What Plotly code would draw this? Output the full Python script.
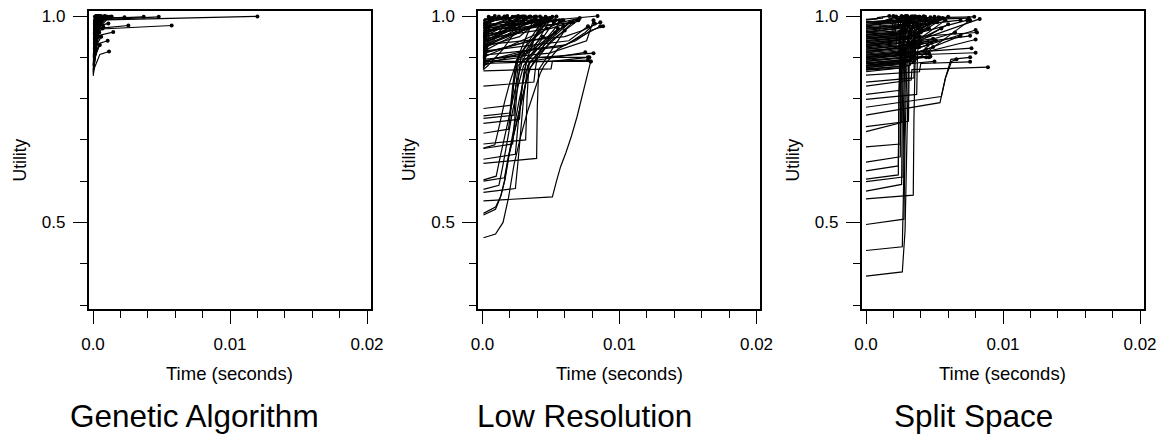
import plotly.graph_objects as go

# ---------------- data (time in milliseconds, utility) ----------------
panel_titles = ["Genetic Algorithm", "Low Resolution", "Split Space"]
x_tick_vals = [0.0, 0.01, 0.02]
x_tick_text = ["0.0", "0.01", "0.02"]
x_minor_vals = [0.002, 0.004, 0.006, 0.008, 0.012, 0.014, 0.016, 0.018]
y_tick_vals = [0.5, 1.0]
y_tick_text = ["0.5", "1.0"]
y_minor_vals = [0.3, 0.4, 0.6, 0.7, 0.8, 0.9]

ga_time_ms = [
    [0.05, 0.15, 12.0], [0.05, 0.25, 5.74], [0.05, 0.15, 4.8], [0.05, 0.1, 3.7],
    [0.05, 0.1, 2.3], [0.05, 0.1, 1.36], [0.05, 0.4, 2.58], [0.05, 0.4, 1.48],
    [0.05, 0.3, 1.12], [0.05, 0.5, 1.07], [0.05, 0.5, 1.17], [0.05, 0.3, 0.75],
    [0.02, 0.15, 0.35, 0.6], [0.03, 0.2, 0.4, 0.9], [0.05, 0.2, 0.5, 1.0],
    [0.04, 0.3, 0.45], [0.05, 0.25, 0.5], [0.05, 0.3, 0.8], [0.05, 0.2, 0.3],
    [0.05, 0.1, 0.2], [0.03, 0.2, 0.6], [0.05, 0.3, 0.55], [0.05, 0.35, 0.7],
    [0.04, 0.2, 0.25], [0.02, 0.25, 0.4], [0.05, 0.15, 0.45], [0.05, 0.3, 0.65],
    [0.05, 0.4, 1.2], [0.04, 0.25, 0.35], [0.05, 0.3, 0.5], [0.03, 0.2, 0.4],
    [0.05, 0.2, 0.35], [0.05, 0.3, 0.45], [0.02, 0.1, 0.3], [0.05, 0.2, 0.55],
    [0.03, 0.15, 0.85], [0.05, 0.25, 0.6],
    [0.03, 0.12, 0.3], [0.03, 0.15, 0.4], [0.04, 0.2, 0.35], [0.02, 0.1, 0.25],
    [0.03, 0.18, 0.5], [0.04, 0.12, 0.3], [0.03, 0.2, 0.42], [0.05, 0.15, 0.28],
    [0.03, 0.22, 0.55], [0.04, 0.1, 0.33], [0.03, 0.17, 0.38], [0.05, 0.13, 0.26],
    [0.03, 0.2, 0.48], [0.04, 0.1, 0.22], [0.03, 0.15, 0.4], [0.05, 0.12, 0.3],
    [0.03, 0.1, 0.2], [0.04, 0.14, 0.36], [0.03, 0.1, 0.18], [0.05, 0.12, 0.27],
    [0.03, 0.1, 0.15], [0.04, 0.12, 0.33], [0.02, 0.08, 0.5], [0.02, 0.1, 0.6],
    [0.03, 0.1, 0.45], [0.02, 0.12, 0.7],
]
ga_utility = [
    [0.95, 0.99, 0.999], [0.93, 0.968, 0.977], [0.96, 0.99, 0.998], [0.97, 0.993, 0.998],
    [0.975, 0.994, 0.997], [0.98, 0.995, 0.999], [0.92, 0.97, 0.977], [0.90, 0.953, 0.961],
    [0.94, 0.975, 0.982], [0.89, 0.934, 0.940], [0.87, 0.907, 0.914], [0.93, 0.965, 0.974],
    [0.855, 0.90, 0.96, 0.995], [0.87, 0.93, 0.975, 0.998], [0.88, 0.94, 0.98, 0.999],
    [0.89, 0.95, 0.997], [0.90, 0.96, 0.999], [0.91, 0.97, 0.998], [0.92, 0.97, 0.997],
    [0.94, 0.98, 0.999], [0.875, 0.93, 0.985], [0.895, 0.955, 0.993], [0.905, 0.96, 0.99],
    [0.95, 0.985, 0.999], [0.865, 0.92, 0.98], [0.885, 0.94, 0.995], [0.90, 0.95, 0.999],
    [0.915, 0.97, 0.998], [0.96, 0.99, 0.998], [0.925, 0.965, 0.985], [0.87, 0.915, 0.95],
    [0.935, 0.96, 0.975], [0.88, 0.92, 0.93], [0.86, 0.91, 0.97], [0.90, 0.94, 0.99],
    [0.88, 0.95, 1.0], [0.945, 0.975, 0.99],
    [0.86, 0.92, 0.99], [0.866, 0.93, 0.995], [0.872, 0.94, 0.999], [0.878, 0.93, 0.985],
    [0.884, 0.95, 0.998], [0.89, 0.94, 0.99], [0.896, 0.96, 0.999], [0.902, 0.95, 0.995],
    [0.908, 0.965, 1.0], [0.914, 0.96, 0.998], [0.92, 0.97, 0.999], [0.926, 0.965, 0.99],
    [0.932, 0.975, 0.999], [0.938, 0.97, 0.995], [0.944, 0.98, 1.0], [0.95, 0.98, 0.998],
    [0.956, 0.985, 0.999], [0.962, 0.99, 1.0], [0.968, 0.99, 0.998], [0.974, 0.992, 1.0],
    [0.98, 0.995, 0.999], [0.986, 0.996, 1.0], [0.87, 0.90, 0.93], [0.88, 0.92, 0.95],
    [0.89, 0.93, 0.96], [0.90, 0.95, 0.97],
]

lr_time_ms = [
    [0.07, 0.95, 1.5, 1.9, 2.3, 2.8, 3.3, 3.8, 4.2, 4.5, 5.5, 8.6],
    [0.07, 0.95, 1.3, 1.6, 1.9, 2.3, 2.75, 3.1, 3.4, 4.5, 6.4],
    [0.07, 0.95, 1.35, 1.65, 1.95, 2.35, 2.8, 3.15, 3.5, 5.0, 7.0],
    [0.07, 5.1, 5.4, 5.7, 6.1, 6.5, 6.9, 7.3, 7.6, 7.8, 7.9],
    [0.07, 2.4, 2.6, 2.8, 3.0, 3.3, 5.5],
    [0.07, 1.0, 1.3, 1.7, 2.1, 2.5, 2.9, 4.6],
    [0.07, 3.95, 4.0, 4.1, 6.0],
    [0.07, 2.4, 2.6, 2.9, 3.2, 5.2],
    [0.07, 2.2, 2.35, 2.55, 2.8, 4.8],
    [0.07, 3.15, 3.25, 3.4, 7.5],
    [0.07, 1.9, 2.1, 2.3, 2.6, 4.4],
    [0.07, 2.3, 2.4, 2.6, 5.9],
    [0.07, 2.0, 2.2, 2.45, 3.8],
    [0.07, 2.1, 2.3, 2.6, 8.1],
    [0.07, 3.75, 3.85, 4.0, 7.8],
    [0.07, 5.0, 5.1, 7.7],
    [0.07, 7.7], [0.07, 7.9],
    [0.07, 5.4], [0.07, 4.6], [0.07, 3.9], [0.07, 3.1], [0.07, 2.2], [0.07, 1.2],
    [0.07, 4.2, 5.9], [0.07, 4.8, 6.4], [0.07, 3.6, 6.1, 7.5, 8.2],
    [0.07, 5.6, 6.8, 7.9, 8.8], [0.07, 6.0, 7.3, 8.6], [0.07, 5.0, 6.9],
    [0.07, 4.4, 6.6], [0.07, 5.2, 7.1], [0.07, 3.3, 8.4], [0.07, 2.7, 4.3],
    [0.07, 1.7, 3.4], [0.07, 3.7, 5.0], [0.07, 4.9, 7.6, 8.1], [0.07, 2.9],
    [0.07, 1.8], [0.07, 0.5], [0.07, 0.3], [0.07, 0.4, 2.5], [0.07, 6.3, 7.7],
    [0.07, 4.0, 5.6], [0.07, 3.5, 4.7], [0.07, 2.5, 5.3], [0.07, 1.4, 3.0],
    [0.07, 0.3, 2.0], [0.07, 0.25, 3.2], [0.07, 0.4, 4.1], [0.07, 0.35, 4.9],
    [0.07, 0.2, 5.1], [0.07, 0.3, 3.6], [0.07, 0.45, 4.5], [0.07, 0.25, 2.8],
    [0.07, 0.3, 5.3], [0.07, 0.2, 4.7], [0.07, 0.35, 3.9], [0.07, 0.25, 2.4],
    [0.07, 0.3, 4.4], [0.07, 0.2, 3.5], [0.07, 0.25, 1.6], [0.07, 0.3, 5.0],
    [0.07, 0.2, 2.6], [0.07, 0.15, 3.0], [0.07, 0.2, 0.9], [0.07, 0.15, 4.2],
    [0.07, 0.5, 2.9, 4.4], [0.07, 0.6, 3.3, 5.3], [0.07, 0.4, 1.5, 3.0],
    [0.07, 0.3, 0.6], [0.07, 0.2, 0.45], [0.07, 0.25, 0.7],
    [0.07, 1.2, 1.5, 1.8, 2.2, 2.6, 3.0, 5.8],
    [0.07, 1.6, 1.9, 2.3, 2.7, 3.1, 3.5, 6.6],
    [0.07, 0.9, 1.2, 1.6, 2.0, 2.4, 2.8, 4.9],
    [0.07, 2.7, 2.8, 3.0, 3.3, 4.3],
]
lr_utility = [
    [0.463, 0.472, 0.50, 0.56, 0.64, 0.71, 0.77, 0.82, 0.86, 0.88, 0.92, 0.975],
    [0.518, 0.532, 0.56, 0.60, 0.66, 0.72, 0.78, 0.83, 0.87, 0.93, 0.985],
    [0.522, 0.537, 0.565, 0.605, 0.665, 0.725, 0.785, 0.835, 0.875, 0.94, 0.99],
    [0.552, 0.562, 0.60, 0.635, 0.67, 0.71, 0.756, 0.81, 0.85, 0.88, 0.89],
    [0.573, 0.582, 0.65, 0.73, 0.80, 0.88, 0.97],
    [0.603, 0.612, 0.66, 0.72, 0.78, 0.84, 0.89, 0.995],
    [0.643, 0.655, 0.78, 0.87, 0.965],
    [0.653, 0.665, 0.74, 0.83, 0.89, 0.985],
    [0.679, 0.69, 0.75, 0.83, 0.90, 0.99],
    [0.69, 0.70, 0.80, 0.89, 0.912],
    [0.716, 0.726, 0.78, 0.84, 0.90, 0.99],
    [0.752, 0.76, 0.82, 0.88, 0.975],
    [0.758, 0.765, 0.83, 0.89, 0.998],
    [0.776, 0.784, 0.84, 0.895, 0.91],
    [0.83, 0.84, 0.87, 0.90, 0.90],
    [0.867, 0.872, 0.89, 0.90],
    [0.885, 0.893], [0.89, 0.89],
    [0.96, 0.999], [0.94, 0.998], [0.92, 0.997], [0.95, 0.999], [0.97, 0.998], [0.98, 0.999],
    [0.90, 0.96, 0.99], [0.91, 0.95, 0.985], [0.89, 0.92, 0.93, 0.96, 0.982],
    [0.905, 0.925, 0.94, 0.965, 0.975], [0.93, 0.95, 0.965, 0.985], [0.945, 0.97, 0.99],
    [0.955, 0.975, 0.985], [0.965, 0.98, 0.995], [0.975, 0.985, 1.0], [0.925, 0.95, 0.995],
    [0.935, 0.96, 0.998], [0.88, 0.92, 0.995], [0.895, 0.91, 0.94, 0.99], [0.985, 0.999],
    [0.99, 1.0], [0.95, 0.995], [0.90, 0.98], [0.87, 0.93, 0.99], [0.915, 0.94, 0.975],
    [0.97, 0.985, 0.99], [0.91, 0.94, 0.97], [0.93, 0.96, 0.99], [0.955, 0.975, 0.995],
    [0.875, 0.93, 0.99], [0.88, 0.94, 0.995], [0.886, 0.92, 0.985], [0.892, 0.93, 0.99],
    [0.898, 0.95, 0.998], [0.904, 0.95, 0.99], [0.91, 0.94, 0.985], [0.916, 0.96, 0.998],
    [0.922, 0.95, 0.99], [0.928, 0.96, 0.995], [0.934, 0.965, 0.999], [0.94, 0.97, 0.998],
    [0.946, 0.97, 0.99], [0.952, 0.975, 0.999], [0.958, 0.98, 0.999], [0.964, 0.98, 0.995],
    [0.97, 0.985, 1.0], [0.976, 0.99, 0.999], [0.982, 0.99, 1.0], [0.988, 0.993, 0.999],
    [0.878, 0.89, 0.90, 0.95], [0.884, 0.895, 0.91, 0.96], [0.87, 0.88, 0.92, 0.99],
    [0.873, 0.92, 0.99], [0.885, 0.94, 0.998], [0.895, 0.95, 0.995],
    [0.58, 0.59, 0.64, 0.70, 0.77, 0.83, 0.88, 0.99],
    [0.60, 0.608, 0.66, 0.73, 0.80, 0.86, 0.89, 0.985],
    [0.68, 0.688, 0.73, 0.79, 0.84, 0.88, 0.91, 0.995],
    [0.74, 0.75, 0.80, 0.86, 0.90, 0.99],
]

ss_time_ms = [
    [0.0, 2.65, 2.85, 3.0, 3.1, 7.6],
    [0.0, 2.65, 2.75, 2.9, 8.3],
    [0.0, 2.77, 2.85, 3.0, 6.9],
    [0.0, 3.45, 3.5, 3.6, 8.0],
    [0.0, 2.6, 2.65, 2.8, 7.4],
    [0.0, 2.7, 2.75, 2.85, 8.0],
    [0.0, 2.36, 2.4, 2.5, 4.3],
    [0.0, 2.36, 2.42, 2.55, 7.7],
    [0.0, 2.5, 2.55, 2.7, 5.0],
    [0.0, 2.5, 2.55, 2.65, 8.0],
    [0.0, 2.6, 2.65, 2.75, 3.9],
    [0.0, 3.1, 3.15, 3.3, 5.8],
    [0.0, 5.4, 5.8, 6.2, 7.6],
    [0.0, 5.5, 5.8, 6.25, 6.6],
    [0.0, 3.7, 3.75, 3.9, 5.6],
    [0.0, 3.3, 3.35, 8.9],
    [0.0, 3.9, 4.0, 7.6],
    [0.0, 2.8, 2.85, 4.6],
    [0.0, 3.5, 3.55, 5.0],
    [0.0, 2.5, 2.55, 4.8],
    [0.0, 3.0, 3.05, 7.5], [0.0, 2.8, 2.85, 6.9], [0.0, 3.2, 3.25, 6.0],
    [0.0, 2.4, 2.45, 5.3], [0.0, 3.4, 3.45, 6.5], [0.0, 2.6, 2.65, 7.6],
    [0.0, 2.5, 2.55, 4.2], [0.0, 3.1, 3.15, 5.7], [0.0, 2.9, 2.95, 4.9],
    [0.0, 3.3, 3.35, 4.6], [0.0, 2.7, 2.75, 4.4], [0.0, 3.6, 3.65, 8.1],
    [0.0, 2.2, 2.25, 3.6], [0.0, 1.5, 1.55, 2.9], [0.0, 3.8, 3.85, 5.4],
    [0.0, 2.0, 2.05, 3.2], [0.0, 3.5, 3.55, 4.5], [0.0, 2.3, 2.35, 3.9],
    [0.0, 3.2, 3.25, 5.0], [0.0, 1.0, 1.05, 2.2], [0.0, 3.9, 3.95, 6.0],
    [0.0, 2.8, 2.85, 4.7], [0.0, 0.8, 0.85, 1.7], [0.0, 3.0, 3.05, 7.9],
    [0.0, 2.1, 2.15, 3.5], [0.0, 3.3, 3.35, 4.1], [0.0, 2.9, 2.95, 3.8],
    [0.0, 3.4, 3.45, 5.2], [0.0, 2.4, 2.45, 4.0], [0.0, 3.6, 3.65, 4.4],
    [0.0, 3.2, 3.25, 4.0], [0.0, 2.9, 2.95, 3.6], [0.0, 3.4, 3.45, 4.3],
    [0.0, 2.6, 2.65, 3.3], [0.0, 3.1, 3.15, 3.9], [0.0, 2.7, 2.75, 3.5],
    [0.0, 3.3, 3.35, 4.6], [0.0, 2.45, 2.5, 3.2], [0.0, 3.0, 3.05, 3.7],
    [0.0, 2.85, 2.9, 4.2], [0.0, 3.5, 3.55, 4.8], [0.0, 2.55, 2.6, 3.4],
    [0.0, 3.15, 3.2, 4.1], [0.0, 2.75, 2.8, 3.3], [0.0, 3.35, 3.4, 4.4],
    [0.0, 2.35, 2.4, 3.0], [0.0, 3.05, 3.1, 3.8], [0.0, 2.65, 2.7, 3.4],
    [0.0, 1.8, 1.85, 2.6], [0.0, 2.95, 3.0, 3.6], [0.0, 1.2, 1.25, 2.0],
    [0.0, 3.45, 3.5, 4.9], [0.0, 2.5, 2.55, 4.0], [0.0, 3.25, 3.3, 5.1],
    [0.0, 2.8, 2.85, 3.9], [0.0, 3.6, 3.65, 5.5], [0.0, 2.4, 2.45, 3.7],
    [0.0, 3.0, 3.05, 4.5], [0.0, 3.7, 3.75, 4.9], [0.0, 2.2, 2.25, 3.5],
    [0.0, 3.1, 3.15, 4.3], [0.0, 2.6, 2.65, 3.1], [0.0, 3.3, 3.35, 4.0],
    [0.0, 2.9, 2.95, 3.5], [0.0, 1.9, 1.95, 2.8], [0.0, 3.4, 3.45, 4.7],
    [0.0, 2.1, 2.15, 3.0], [0.0, 3.2, 3.25, 3.9], [0.0, 2.3, 2.35, 2.9],
    [0.0, 3.55, 3.6, 4.2],
]
ss_utility = [
    [0.370, 0.380, 0.48, 0.72, 0.88, 0.99],
    [0.432, 0.441, 0.60, 0.93, 0.993],
    [0.495, 0.508, 0.70, 0.90, 0.952],
    [0.557, 0.566, 0.75, 0.92, 0.966],
    [0.576, 0.592, 0.78, 0.95, 0.99],
    [0.599, 0.610, 0.80, 0.90, 0.943],
    [0.605, 0.615, 0.80, 0.96, 0.998],
    [0.625, 0.637, 0.82, 0.91, 0.922],
    [0.646, 0.659, 0.83, 0.94, 0.99],
    [0.683, 0.690, 0.85, 0.905, 0.911],
    [0.720, 0.742, 0.88, 0.97, 0.998],
    [0.732, 0.745, 0.88, 0.93, 0.99],
    [0.760, 0.790, 0.85, 0.895, 0.90],
    [0.779, 0.805, 0.85, 0.89, 0.895],
    [0.798, 0.810, 0.90, 0.97, 0.995],
    [0.830, 0.845, 0.87, 0.876],
    [0.857, 0.865, 0.885, 0.889],
    [0.869, 0.875, 0.90, 0.90],
    [0.840, 0.850, 0.95, 0.998],
    [0.810, 0.820, 0.93, 0.935],
    [0.97, 0.98, 0.99, 0.995], [0.95, 0.96, 0.975, 0.99], [0.93, 0.945, 0.97, 0.998],
    [0.91, 0.925, 0.96, 0.997], [0.89, 0.90, 0.93, 0.96], [0.875, 0.885, 0.93, 0.952],
    [0.96, 0.97, 0.99, 0.999], [0.94, 0.95, 0.96, 0.993], [0.90, 0.915, 0.935, 0.945],
    [0.88, 0.89, 0.905, 0.91], [0.865, 0.875, 0.895, 0.90], [0.92, 0.93, 0.95, 0.96],
    [0.985, 0.99, 0.995, 0.999], [0.975, 0.985, 0.99, 0.998], [0.955, 0.96, 0.975, 0.995],
    [0.945, 0.95, 0.97, 0.99], [0.905, 0.915, 0.92, 0.93], [0.895, 0.905, 0.915, 0.925],
    [0.87, 0.88, 0.885, 0.89], [0.96, 0.965, 0.985, 0.999], [0.915, 0.925, 0.94, 0.98],
    [0.885, 0.895, 0.90, 0.902], [0.99, 0.993, 0.996, 1.0], [0.985, 0.99, 0.995, 0.998],
    [0.925, 0.94, 0.97, 0.985], [0.935, 0.945, 0.955, 0.965], [0.98, 0.985, 0.99, 0.997],
    [0.90, 0.91, 0.95, 0.985], [0.945, 0.955, 0.965, 0.98], [0.88, 0.89, 0.91, 0.92],
    [0.872, 0.88, 0.93, 0.96], [0.878, 0.886, 0.92, 0.95], [0.884, 0.893, 0.96, 0.99],
    [0.89, 0.90, 0.95, 0.985], [0.896, 0.905, 0.94, 0.975], [0.902, 0.91, 0.97, 0.995],
    [0.908, 0.918, 0.95, 0.97], [0.914, 0.922, 0.965, 0.99], [0.92, 0.93, 0.955, 0.98],
    [0.926, 0.935, 0.96, 0.99], [0.932, 0.94, 0.97, 0.985], [0.938, 0.946, 0.975, 0.998],
    [0.944, 0.952, 0.98, 0.995], [0.95, 0.958, 0.985, 0.999], [0.956, 0.963, 0.98, 0.993],
    [0.962, 0.97, 0.99, 0.999], [0.968, 0.975, 0.99, 0.998], [0.974, 0.98, 0.992, 0.999],
    [0.98, 0.985, 0.995, 1.0], [0.986, 0.99, 0.996, 0.999], [0.992, 0.995, 0.998, 1.0],
    [0.875, 0.885, 0.91, 0.925], [0.881, 0.89, 0.92, 0.935], [0.887, 0.895, 0.925, 0.94],
    [0.893, 0.90, 0.93, 0.95], [0.899, 0.907, 0.94, 0.97], [0.905, 0.912, 0.945, 0.975],
    [0.911, 0.92, 0.95, 0.99], [0.917, 0.925, 0.955, 0.985], [0.923, 0.93, 0.96, 0.995],
    [0.929, 0.937, 0.965, 0.998], [0.935, 0.943, 0.97, 0.99], [0.941, 0.948, 0.975, 0.996],
    [0.947, 0.955, 0.98, 0.999], [0.953, 0.96, 0.985, 0.998], [0.959, 0.966, 0.985, 0.997],
    [0.965, 0.972, 0.99, 1.0], [0.971, 0.977, 0.99, 0.998], [0.977, 0.983, 0.993, 1.0],
    [0.983, 0.988, 0.996, 0.999],
]

panels = [(ga_time_ms, ga_utility), (lr_time_ms, lr_utility), (ss_time_ms, ss_utility)]

# ---------------- layout geometry (pixels) ----------------
W, H = 1168, 435
plot_w = 282
left_px = [88.5, 478.0, 861.5]
top_px, bottom_px = 11, 309
px_per_sec = 13700.0
x_range = [-4.5 / px_per_sec, -4.5 / px_per_sec + plot_w / px_per_sec]
y_range = [0.3 - 4.0 / 412.9, 1.0 + 5.0 / 412.9]

FONT = "Liberation Sans, Arial, Helvetica, sans-serif"

fig = go.Figure()
for i, (tms, util) in enumerate(panels):
    xs, ys, ex, ey = [], [], [], []
    for t_run, u_run in zip(tms, util):
        xs += [v / 1000.0 for v in t_run] + [None]
        ys += list(u_run) + [None]
        ex.append(t_run[-1] / 1000.0)
        ey.append(u_run[-1])
    xa = "x" if i == 0 else f"x{i+1}"
    ya = "y" if i == 0 else f"y{i+1}"
    fig.add_trace(go.Scatter(x=xs, y=ys, mode="lines", line=dict(color="black", width=1.2),
                             xaxis=xa, yaxis=ya, showlegend=False, hoverinfo="skip"))
    fig.add_trace(go.Scatter(x=ex, y=ey, mode="markers", marker=dict(color="black", size=4),
                             xaxis=xa, yaxis=ya, showlegend=False))

axis_common = dict(showline=True, mirror=True, linecolor="black", linewidth=1.5,
                   showgrid=False, zeroline=False, ticks="outside", tickcolor="black",
                   tickwidth=1.2, tickfont=dict(family=FONT, size=17, color="black"),
                   automargin=False)

layout = dict(width=W, height=H, margin=dict(l=0, r=0, t=0, b=0),
              plot_bgcolor="white", paper_bgcolor="white", font=dict(family=FONT, color="black"))
annotations = []
for i in range(3):
    sfx = "" if i == 0 else str(i + 1)
    x0 = left_px[i] / W
    x1 = (left_px[i] + plot_w) / W
    layout["xaxis" + sfx] = dict(axis_common, domain=[x0, x1], range=x_range,
                                 anchor="y" + sfx, tickmode="array", tickvals=x_tick_vals,
                                 ticktext=x_tick_text, ticklen=13, ticklabelstandoff=6,
                                 minor=dict(tickmode="array", tickvals=x_minor_vals, ticklen=7,
                                            ticks="outside", tickcolor="black", tickwidth=1.2))
    layout["yaxis" + sfx] = dict(axis_common, domain=[1 - bottom_px / H, 1 - top_px / H],
                                 range=y_range, anchor="x" + sfx, tickmode="array",
                                 tickvals=y_tick_vals, ticktext=y_tick_text, ticklen=14,
                                 ticklabelstandoff=4,
                                 minor=dict(tickmode="array", tickvals=y_minor_vals, ticklen=7,
                                            ticks="outside", tickcolor="black", tickwidth=1.2))
    cx = (x0 + x1) / 2
    annotations.append(dict(text="Time (seconds)", x=cx, y=1 - 373.6 / H, xref="paper", yref="paper",
                            xanchor="center", yanchor="middle", showarrow=False,
                            font=dict(family=FONT, size=18.5, color="black")))
    annotations.append(dict(text="Utility", x=(left_px[i] - 69) / W, y=1 - 160 / H, xref="paper",
                            yref="paper", xanchor="center", yanchor="middle", textangle=-90,
                            showarrow=False, font=dict(family=FONT, size=17.5, color="black")))
    annotations.append(dict(text=panel_titles[i], x=(2 * i + 1) / 6, y=1 - 416 / H, xref="paper",
                            yref="paper", xanchor="center", yanchor="middle", showarrow=False,
                            font=dict(family=FONT, size=31.5, color="black")))
layout["annotations"] = annotations
fig.update_layout(**layout)
fig.write_html("out.html", config={"displayModeBar": False},
               post_script="document.body.style.margin='0';")
